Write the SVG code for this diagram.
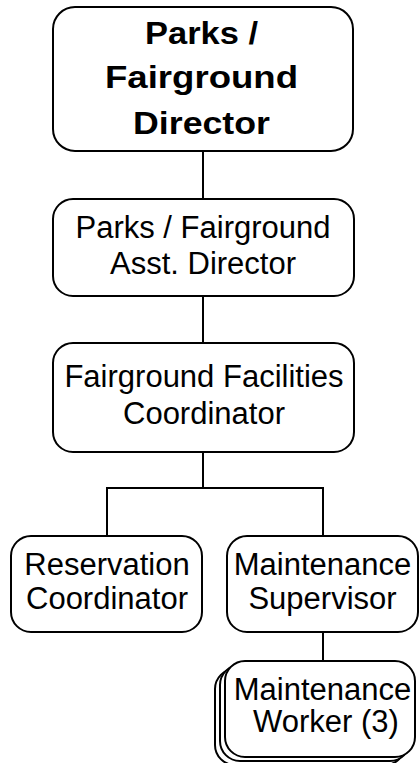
<svg xmlns="http://www.w3.org/2000/svg" width="420" height="763" viewBox="0 0 420 763">
  <style>
    .box { fill: #ffffff; stroke: #000000; stroke-width: 2; }
    .link { fill: none; stroke: #000000; stroke-width: 2; }
    text { font-family: "Liberation Sans", Arial, sans-serif; fill: #000000; text-anchor: middle; }
    .title { font-size: 31.5px; font-weight: bold; }
    .label { font-size: 31px; }
  </style>
  <rect width="420" height="763" fill="#ffffff"/>

  <g id="connectors">
    <path class="link" d="M203,151 V199"/>
    <path class="link" d="M203,296 V343"/>
    <path class="link" d="M203,452 V488 M107,536 V488 H323 V536"/>
    <path class="link" d="M323,632 V661"/>
  </g>

  <g id="director">
    <rect class="box" x="53" y="7" width="300" height="144" rx="22"/>
    <text class="title" x="201.5" y="44" textLength="113" lengthAdjust="spacingAndGlyphs">Parks /</text>
    <text class="title" x="201.5" y="88" textLength="193" lengthAdjust="spacingAndGlyphs">Fairground</text>
    <text class="title" x="201.5" y="133.5" textLength="137" lengthAdjust="spacingAndGlyphs">Director</text>
  </g>

  <g id="asst-director">
    <rect class="box" x="53" y="199" width="301" height="97" rx="20"/>
    <text class="label" x="203" y="238">Parks / Fairground</text>
    <text class="label" x="203" y="274">Asst. Director</text>
  </g>

  <g id="facilities-coordinator">
    <rect class="box" x="53" y="343" width="301" height="109" rx="20"/>
    <text class="label" x="204" y="387">Fairground Facilities</text>
    <text class="label" x="204" y="424">Coordinator</text>
  </g>

  <g id="reservation-coordinator">
    <rect class="box" x="11" y="536" width="191" height="96" rx="20"/>
    <text class="label" x="107" y="575">Reservation</text>
    <text class="label" x="107" y="609">Coordinator</text>
  </g>

  <g id="maintenance-supervisor">
    <rect class="box" x="227" y="536" width="191" height="96" rx="20"/>
    <text class="label" x="322.5" y="575">Maintenance</text>
    <text class="label" x="322.5" y="609">Supervisor</text>
  </g>

  <g id="maintenance-workers">
    <rect class="box" x="215" y="669" width="190" height="96" rx="20"/>
    <rect class="box" x="220" y="665" width="190" height="96" rx="20"/>
    <rect class="box" x="225" y="661" width="190" height="96" rx="20"/>
    <text class="label" x="322.5" y="700">Maintenance</text>
    <text class="label" x="326" y="732">Worker (3)</text>
  </g>
</svg>
